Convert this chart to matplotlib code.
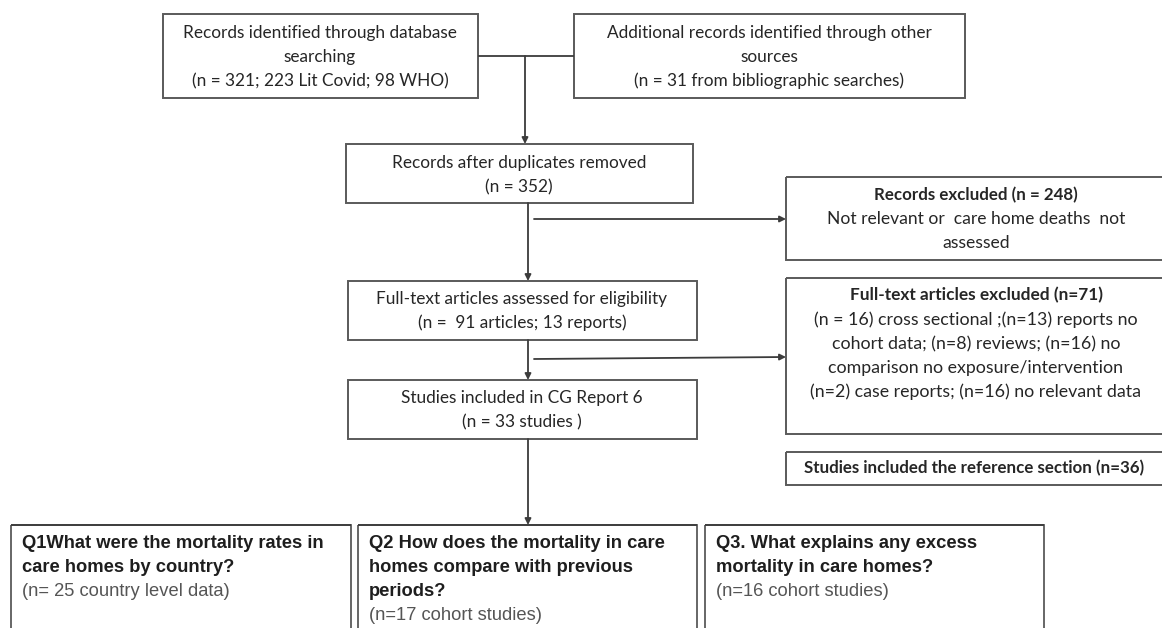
import matplotlib.pyplot as plt
from matplotlib.patches import Rectangle

# box texts (title in bold where the box has one)
src_db = ["Records identified through database", "searching", "(n = 321; 223 Lit Covid; 98 WHO)"]
src_other = ["Additional records identified through other", "sources", "(n = 31 from bibliographic searches)"]
dedup = ["Records after duplicates removed", "(n = 352)"]
excl_title = "Records excluded (n = 248)"
excl_body = ["Not relevant or  care home deaths  not", "assessed"]
fulltext = ["Full-text articles assessed for eligibility", "(n =  91 articles; 13 reports)"]
ft_excl_title = "Full-text articles excluded (n=71)"
ft_excl_body = ["(n = 16) cross sectional ;(n=13) reports no",
                "cohort data; (n=8) reviews; (n=16) no",
                "comparison no exposure/intervention",
                "(n=2) case reports; (n=16) no relevant data"]
included = ["Studies included in CG Report 6", "(n = 33 studies )"]
ref_title = "Studies included the reference section (n=36)"
q_titles = [["Q1What were the mortality rates in", "care homes by country?"],
            ["Q2 How does the mortality in care", "homes compare with previous", "periods?"],
            ["Q3. What explains any excess", "mortality in care homes?"]]
q_counts = ["(n= 25 country level data)", "(n=17 cohort studies)", "(n=16 cohort studies)"]

W, H = 1162, 628
TOP_FONT = ['Lato', 'DejaVu Sans']
Q_FONT = ['Liberation Sans', 'DejaVu Sans']
EDGE = '#5a5a5a'
LINE = '#3c3c3c'
TXT = '#262626'
LS = 24

fig = plt.figure(figsize=(W / 100, H / 100), dpi=100)
ax = fig.add_axes([0, 0, 1, 1])
ax.set_xlim(0, W)
ax.set_ylim(H, 0)
ax.axis('off')


def box(x0, y0, x1, y1, lw=1.4):
    ax.add_patch(Rectangle((x0, y0), x1 - x0, y1 - y0, fill=False,
                           edgecolor=EDGE, lw=lw, zorder=2))


def lines(xc, y, rows, bold=False, size=12.4, ha='center', font=TOP_FONT, color=TXT):
    for i, r in enumerate(rows):
        ax.text(xc, y + i * LS, r, ha=ha, va='center', fontsize=size,
                family=font, fontweight='bold' if bold else 'normal', color=color)


def arrow(x0, y0, x1, y1):
    ax.annotate('', xy=(x1, y1), xytext=(x0, y0),
                arrowprops=dict(arrowstyle='-|>', color=LINE, lw=1.3,
                                mutation_scale=9, shrinkA=0, shrinkB=0))


def seg(x0, y0, x1, y1):
    ax.plot([x0, x1], [y0, y1], color=LINE, lw=1.3, solid_capstyle='butt')


# top row
box(163, 14, 478, 98)
lines(320, 33, src_db)
box(574, 14, 965, 98)
lines(769, 33, src_other)
seg(478, 56, 574, 56)
arrow(525, 56, 525, 144)

# main column
box(346, 144, 693, 203)
lines(519, 163, dedup)
box(348, 281, 697, 340)
lines(522, 299, fulltext)
box(348, 380, 697, 439)
lines(522, 398, included)

arrow(528, 203, 528, 281)
arrow(528, 340, 528, 380)
arrow(528, 439, 528, 525)
arrow(534, 219, 786, 219)
arrow(534, 359, 786, 357)

# exclusion column (right edge runs off the picture)
box(786, 177, 1175, 260)
lines(976, 195, [excl_title], bold=True, size=12.2)
lines(976, 219, excl_body, size=12.6)
box(786, 278, 1175, 434)
lines(976, 295, [ft_excl_title], bold=True, size=12.4)
lines(976, 320, ft_excl_body, size=12.8)
box(786, 452, 1175, 485)
lines(974, 468, [ref_title], bold=True, size=12.2)

# question boxes
q_x = [(11, 351), (358, 697), (705, 1044)]
for (x0, x1), title, cnt in zip(q_x, q_titles, q_counts):
    box(x0, 525, x1, 640, lw=1.3)
    seg(x0, 525, x1, 525)
    lines(x0 + 11, 544, title, bold=True, size=13.2, ha='left', font=Q_FONT, color='#1e1e1e')
    lines(x0 + 11, 544 + len(title) * LS, [cnt], size=13.2, ha='left', font=Q_FONT, color='#555555')

fig.savefig('out.png', dpi=100, facecolor='white')
